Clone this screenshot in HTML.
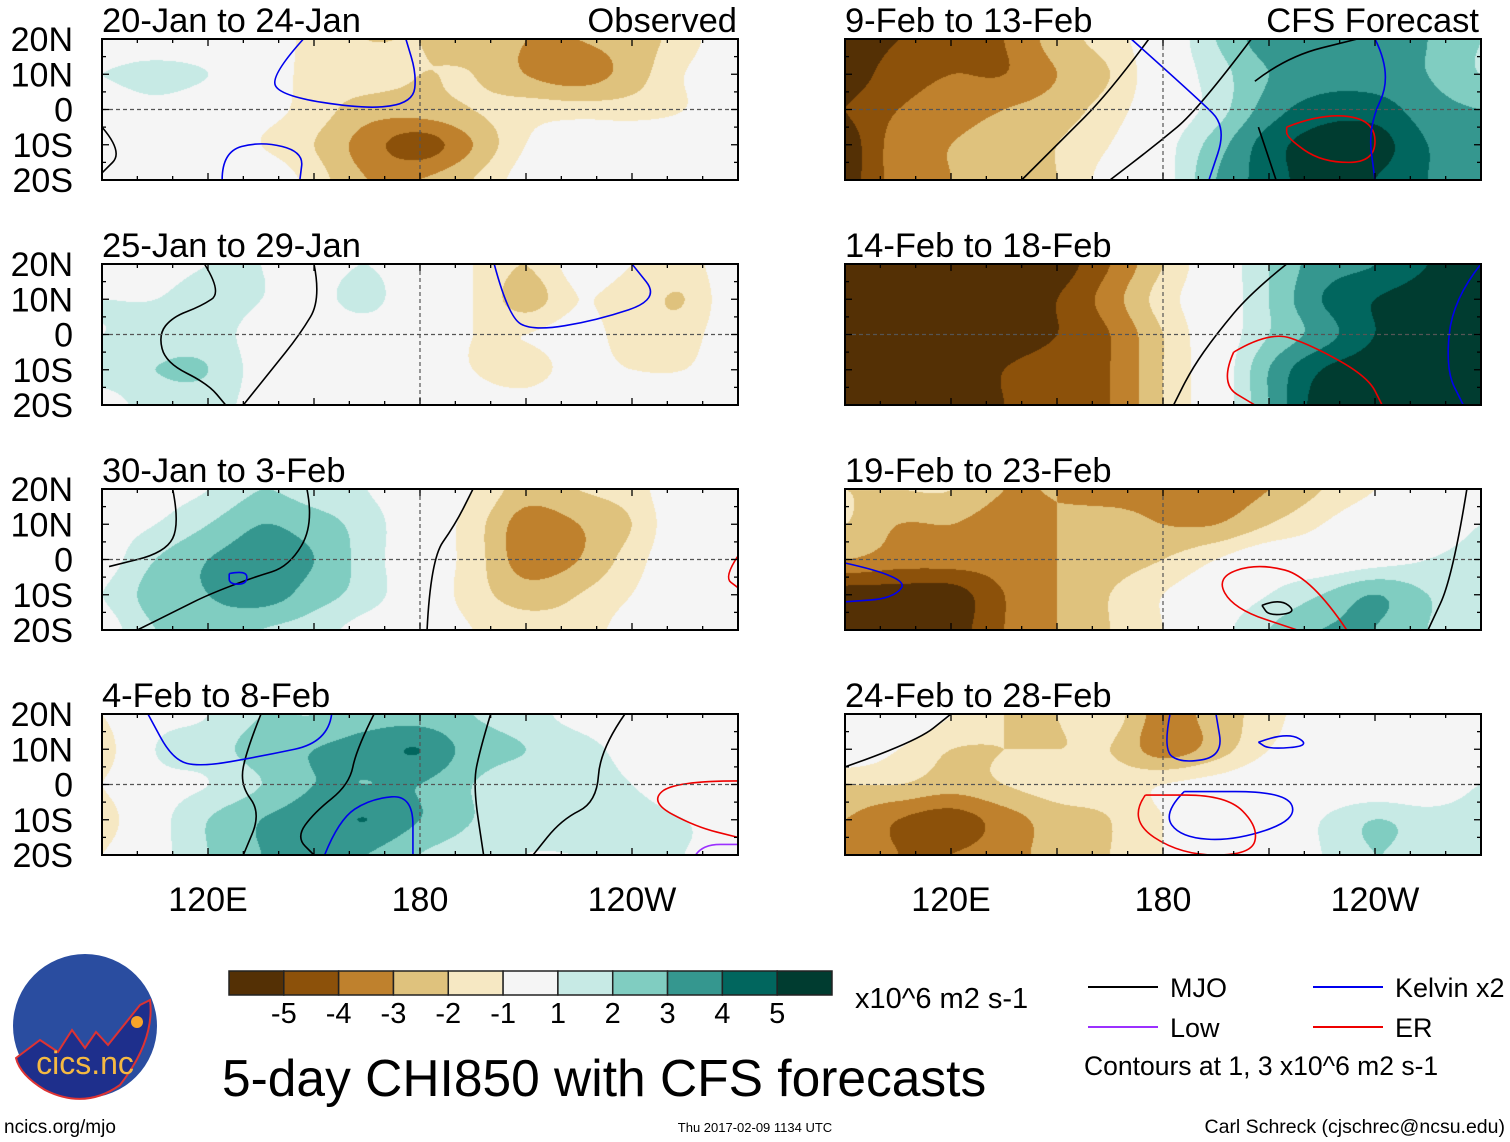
<!DOCTYPE html>
<html><head><meta charset="utf-8">
<style>
html,body{margin:0;padding:0;background:#fff;}
body{width:1510px;height:1142px;position:relative;overflow:hidden;font-family:"Liberation Sans",sans-serif;}
canvas{position:absolute;}
svg{position:absolute;left:0;top:0;}
</style></head>
<body>
<div id="maps"></div>
<svg id="ov" width="1510" height="1142"></svg>
<script>
// ---- data ----
const lons = [90,105,120,135,150,165,180,195,210,225,240,255,270];
const lats = [20,10,0,-10,-20];
const levels = [-5,-4,-3,-2,-1,1,2,3,4,5];
const levelLabels = ["-5","-4","-3","-2","-1","1","2","3","4","5"];
const colors = ["#543005","#8c510a","#bf812d","#dfc27d","#f6e8c3","#f5f5f5","#c7eae5","#80cdc1","#35978f","#01665e","#003c30"];
const titles = ["20-Jan to 24-Jan","25-Jan to 29-Jan","30-Jan to 3-Feb","4-Feb to 8-Feb","9-Feb to 13-Feb","14-Feb to 18-Feb","19-Feb to 23-Feb","24-Feb to 28-Feb"];
const lonTicks = [120,180,240];
const lonTickLabels = ["120E","180","120W"];
const latTickLabels = ["20N","10N","0","10S","20S"];
const field1 = [[0,0,0,0,-1.5,-2,-2,-2.5,-3,-3,-2.5,-1.5,0],[1,1.5,1,0,-1.5,-1.5,-2,-2,-3,-3.5,-2.5,-1,0],[0,0.5,0,-0.5,-1.5,-2.5,-2.5,-2,-1.5,-1.5,-1.5,-1,0],[0,0,0,-1,-2,-3.5,-4.5,-3,-1,0,0,0,0],[0,0,0,0,-1.5,-3,-3,-2,-0.5,0,0,0,0]];
const field2 = [[0,0.5,1,1,0.5,1,0,-1,-2,-0.5,-1,-1.5,0],[1,1,1.5,1,0.5,1.5,-0.5,-1,-2.5,-1,-1.5,-2,0],[1,1.5,1.5,0.5,0,0,-0.5,-1,-1,-0.5,-1.5,-1.5,0],[1.5,2,2,0.5,0,0,-0.5,-1,-1.5,-0.5,-1,-1,0],[0.5,1.5,1.5,0.5,0,-1,-0.5,-0.5,-0.5,0,0,0,0]];
const field3 = [[0,0.5,1,2,1.5,1,0,-1,-2.5,-2,-1.5,0,0],[0.5,1,2,3,2.5,1.5,0,-1.5,-3.5,-3,-2,0,0],[0.5,2,3,3.5,3,1.5,0,-1.5,-3.5,-3,-1.5,0,0],[1,2.5,3,3.5,2.5,1.5,0,-1.5,-2.5,-2,-1,0,0],[0.5,2,2.5,2,1.5,0.5,0,-1,-1.5,-1.5,-0.5,0,0]];
const field4 = [[-1,0.5,1,2,2,2.5,2.5,2,1.5,0.5,0,0,0],[-1.5,1,1.5,2.5,3,3.5,4,2.5,2,1.5,0.5,0,0],[-1,0.5,1,2,3,3,3,2,1.5,1.5,1,0,0],[-1.5,0.5,2,3,3.5,4,3,2,1.5,1.5,1.5,1,0.5],[-1,0.5,2,3,3,3,2,1.5,1,1,1,1,0.5]];
const field5 = [[-5.5,-5,-4.5,-4,-2.5,-1.5,0,2,3.5,3.5,3.5,3,2],[-5.5,-4.5,-4,-4,-3,-2,0,1.5,3,3.5,3.5,3,2],[-5,-4,-3.5,-3,-2.5,-1.5,0,1.5,3.5,4.5,4.5,3.5,3],[-5.5,-3.5,-3,-2.5,-2,-1,0.5,2.5,4.5,5.5,5.5,4,3.5],[-5.5,-3.5,-3,-2.5,-2,-0.5,0.5,3,4.5,5.5,5,4,3.5]];
const field6 = [[-5.5,-5.5,-5.5,-5.5,-5.5,-4,-2,0,2,3.5,4,5,5.5],[-5.5,-5.5,-5.5,-5.5,-5,-3.5,-1.5,0,2,4,5,5.5,5.5],[-5.5,-5.5,-5.5,-5.5,-5,-4,-2,0,2,3.5,5,5.5,5.5],[-5.5,-5.5,-5.5,-5,-4.5,-4,-2,0,3,5,5.5,5.5,5.5],[-5.5,-5.5,-5.5,-5,-4.5,-4,-2,0,3,5.5,5.5,5.5,5.5]];
const field7 = [[-2,-2,-2,-3,-3,-3.5,-3.5,-3.5,-3,-2,-1,0,0.5],[-2,-3,-3,-3.5,-3,-2.5,-3,-3,-2,-1,0,0,1],[-3,-3.5,-3.5,-3.5,-3,-2.5,-2,-1,0,0,0.5,1,1.5],[-5.5,-5.5,-5.5,-4,-3,-2,-1,0,1,2,3,2,1.5],[-5.5,-5.5,-5.5,-4,-3,-2,-1,0.5,2,3,3,2,1.5]];
const field8 = [[0,0,-1,-2,-2,-1.5,-3.5,-2.5,-1.5,0,0,0,0],[0,-1,-2,-2,-2,-2,-3.5,-2.5,-1,0,0,0,0],[-2,-2,-2.5,-2,-1.5,-1.5,-1,-0.5,0,0,0,0,1],[-3,-4,-4.5,-3.5,-2.5,-2,-1,0,0,1,2,1.5,1.5],[-3,-4,-4,-3.5,-2.5,-2,-1,0,0,1,2,1.5,1.5]];
const fields = [field1,field2,field3,field4,field5,field6,field7,field8];
// contours: [color, [[lon,lat],...]]
const contours = [
 [["#0000ee",[[147,20],[138,10],[140,4],[165,0],[178,2],[179,10],[176,20]]],["#0000ee",[[124,-20],[124,-12],[135,-9],[147,-12],[146,-20]]],["#000",[[90,-5],[96,-12],[90,-18]]]],
 [["#000",[[119,20],[124,12],[118,8],[110,5],[106,0],[108,-8],[120,-14],[125,-20]]],["#000",[[150,20],[152,10],[146,0],[138,-10],[130,-20]]],["#0000ee",[[201,20],[205,5],[212,1],[230,4],[248,10],[240,20]]]],
 [["#000",[[110,20],[112,10],[108,2],[92,-2]]],["#000",[[182,-20],[183,0],[190,10],[195,20]]],["#000",[[148,20],[150,10],[143,-2],[133,-5],[120,-10],[112,-14],[100,-20]]],["#ee0000",[[270,1],[266,-5],[270,-8]]],["#0000ee",[[126,-4],[131,-3],[131,-7],[126,-7],[126,-4]]]],
 [["#000",[[135,20],[131,10],[129,0],[135,-8],[130,-20]]],["#000",[[167,20],[162,10],[160,0],[150,-8],[145,-15],[150,-20]]],["#000",[[200,20],[197,10],[195,0],[198,-20]]],["#000",[[238,20],[231,10],[230,-5],[220,-10],[212,-20]]],["#0000ee",[[155,20],[154,12],[135,8],[118,5],[110,7],[103,20]]],["#0000ee",[[153,-20],[157,-10],[166,-4],[178,-3],[178,-20]]],["#ee0000",[[270,1],[252,1],[245,-5],[258,-12],[270,-15]]],["#9b30ff",[[258,-20],[260,-17],[270,-17]]]],
 [["#000",[[176,20],[165,5],[150,-10],[140,-20]]],["#000",[[205,20],[190,0],[178,-10],[165,-20]]],["#0000ee",[[171,20],[190,3],[198,-5],[193,-20]]],["#000",[[206,8],[215,15],[235,20]]],["#000",[[207,-5],[212,-20]]],["#ee0000",[[215,-5],[225,-1],[240,-3],[240,-15],[225,-15],[215,-8],[215,-5]]],["#0000ee",[[240,20],[245,10],[238,-5],[240,-20]]]],
 [["#000",[[215,20],[205,12],[195,0],[188,-10],[183,-20]]],["#ee0000",[[200,-5],[210,1],[222,-3],[238,-12],[242,-20]]],["#ee0000",[[200,-5],[196,-14],[206,-20]]],["#0000ee",[[270,20],[262,10],[260,-10],[265,-20]]]],
 [["#ee0000",[[232,-20],[222,-5],[207,-1],[195,-5],[200,-14],[218,-20]]],["#000",[[266,20],[262,-5],[255,-20]]],["#0000ee",[[90,-1],[108,-5],[104,-11],[90,-12]]],["#000",[[208,-13],[213,-11],[218,-15],[210,-16],[208,-13]]]],
 [["#0000ee",[[182,20],[180,10],[185,6],[197,8],[195,20]]],["#0000ee",[[207,12],[215,15],[222,11],[210,10],[207,12]]],["#0000ee",[[186,-2],[180,-8],[185,-15],[200,-16],[218,-10],[215,-2],[186,-2]]],["#ee0000",[[175,-3],[170,-10],[185,-20],[205,-20],[207,-12],[198,-3],[175,-3]]],["#000",[[90,5],[110,12],[120,20]]]]
];
// ---- layout ----
const W=636,H=141;
const panelX=[102,102,102,102,845,845,845,845];
const panelY=[39,264,489,714,39,264,489,714];
const NS="http://www.w3.org/2000/svg";
const ov=document.getElementById('ov');
function el(tag,attrs,parent){const e=document.createElementNS(NS,tag);for(const k in attrs)e.setAttribute(k,attrs[k]);(parent||ov).appendChild(e);return e;}
function hex(c){return [parseInt(c.substr(1,2),16),parseInt(c.substr(3,2),16),parseInt(c.substr(5,2),16)];}
const rgb=colors.map(hex);
function xs(p,lon){return panelX[p]+(lon-90)/180*W;}
function ys(p,lat){return panelY[p]+(20-lat)/40*H;}
function cr(p0,p1,p2,p3,t){return 0.5*((2*p1)+(-p0+p2)*t+(2*p0-5*p1+4*p2-p3)*t*t+(-p0+3*p1-3*p2+p3)*t*t*t);}
function g(f,j,i){j=Math.max(0,Math.min(lats.length-1,j));i=Math.max(0,Math.min(lons.length-1,i));return f[j][i];}
function val(f,u,v){const i=Math.min(Math.floor(u),lons.length-2),j=Math.min(Math.floor(v),lats.length-2);const a=u-i,b=v-j;
 const r=[];for(let k=-1;k<=2;k++){r.push(cr(g(f,j+k,i-1),g(f,j+k,i),g(f,j+k,i+1),g(f,j+k,i+2),a));}
 return cr(r[0],r[1],r[2],r[3],b);}
const maps=document.getElementById('maps');
for(let p=0;p<8;p++){
 const c=document.createElement('canvas');c.width=W;c.height=H;c.style.left=panelX[p]+'px';c.style.top=panelY[p]+'px';
 
 
 maps.appendChild(c);
 const ctx=c.getContext('2d');const img=ctx.createImageData(W,H);
 for(let y=0;y<H;y++)for(let x=0;x<W;x++){
  const v=val(fields[p],x/(W-1)*(lons.length-1),y/(H-1)*(lats.length-1));
  let k=0;while(k<levels.length&&v>=levels[k])k++;
  const o=(y*W+x)*4;img.data[o]=rgb[k][0];img.data[o+1]=rgb[k][1];img.data[o+2]=rgb[k][2];img.data[o+3]=255;}
 ctx.putImageData(img,0,0);
 const gg=el('g',{});
 
 
 contours[p].forEach(([col,pts])=>{
  const P=pts.map(q=>[xs(p,q[0]),ys(p,q[1])]);
  let d='M'+P[0][0]+' '+P[0][1];
  for(let i=1;i<P.length-1;i++){const mx=(P[i][0]+P[i+1][0])/2,my=(P[i][1]+P[i+1][1])/2;d+=' Q'+P[i][0]+' '+P[i][1]+' '+mx+' '+my;}
  d+=' L'+P[P.length-1][0]+' '+P[P.length-1][1];
  const pa=el('path',{d:d,fill:'none',stroke:col,'stroke-width':1.6},gg);
  
  
 });
 el('line',{x1:panelX[p],x2:panelX[p]+W,y1:ys(p,0),y2:ys(p,0),stroke:'#555','stroke-dasharray':'4,3','stroke-width':1.2},gg);
 el('line',{x1:xs(p,180),x2:xs(p,180),y1:panelY[p],y2:panelY[p]+H,stroke:'#555','stroke-dasharray':'4,3','stroke-width':1.2},gg);
 const fr=el('rect',{x:panelX[p],y:panelY[p],width:W,height:H,fill:'none',stroke:'#000','stroke-width':2},gg);
 
 
 for(let lo=90;lo<=270;lo+=10){const x=xs(p,lo);const L=(lo%30==0)?7:4;
  el('line',{x1:x,x2:x,y1:panelY[p],y2:panelY[p]+L,stroke:'#000','stroke-width':1.3},gg);
  el('line',{x1:x,x2:x,y1:panelY[p]+H,y2:panelY[p]+H-L,stroke:'#000','stroke-width':1.3},gg);}
 for(let la=-20;la<=20;la+=5){const y=ys(p,la);const L=(la%10==0)?7:4;
  el('line',{x1:panelX[p],x2:panelX[p]+L,y1:y,y2:y,stroke:'#000','stroke-width':1.3},gg);
  el('line',{x1:panelX[p]+W,x2:panelX[p]+W-L,y1:y,y2:y,stroke:'#000','stroke-width':1.3},gg);}
 const t=el('text',{x:panelX[p],y:panelY[p]-7,'font-size':34.5,fill:'#000'},gg);t.textContent=titles[p];
 
 
 if(p<4){latTickLabels.forEach((s,i)=>{const tt=el('text',{x:73,y:ys(p,lats[i])+12,'font-size':34,'text-anchor':'end'},gg);tt.textContent=s;
  
  });}
 if(p==3||p==7){lonTicks.forEach((lo,i)=>{const tt=el('text',{x:xs(p,lo),y:911,'font-size':34,'text-anchor':'middle'},gg);tt.textContent=lonTickLabels[i];
  
  });}
}
function txt(s,x,y,fs,name,anchor){const t=el('text',{x:x,y:y,'font-size':fs,'text-anchor':anchor||'start'});t.textContent=s;
 
 return t;}
txt('Observed',737,32,34.5,'observed-label','end');
txt('CFS Forecast',1479,32,34.5,'forecast-label','end');
const cbx=229,cbw=603/11;
colors.forEach((c,i)=>{const r=el('rect',{x:cbx+i*cbw,y:971,width:cbw,height:24,fill:c,stroke:'#222','stroke-width':1.5});
 
 });
levelLabels.forEach((s,i)=>txt(s,cbx+(i+1)*cbw,1023,29,'colorbar-label','middle'));
txt('x10^6 m2 s-1',855,1008,29,'colorbar-units');
txt('5-day CHI850 with CFS forecasts',222,1096,51.5,'chart-title');
[[1088,987,'#000','MJO'],[1313,987,'#0000ee','Kelvin x2'],[1088,1027,'#9b30ff','Low'],[1313,1027,'#ee0000','ER']].forEach(([x,y,c,s])=>{
 const l=el('line',{x1:x,x2:x+70,y1:y,y2:y,stroke:c,'stroke-width':2});
 
 
 txt(s,x+82,y+10,27,'legend-entry');});
txt('Contours at 1, 3 x10^6 m2 s-1',1084,1075,26.5,'contour-note');
txt('ncics.org/mjo',4,1133,19,'source-url');
txt('Thu 2017-02-09 1134 UTC',755,1132,13,'timestamp','middle');
txt('Carl Schreck (cjschrec@ncsu.edu)',1505,1133,19.5,'credit','end');
const lg=el('g',{});


el('circle',{cx:85,cy:1026,r:72,fill:'#2a4da0'},lg);
el('path',{d:'M16 1058 L40 1040 L58 1052 L72 1030 L85 1048 L96 1032 L108 1045 L140 1005 L150 1000 Q155 1040 120 1085 Q85 1110 45 1090 Q20 1075 16 1058Z',fill:'#1e2f8c',stroke:'#d33','stroke-width':2},lg);
el('circle',{cx:137,cy:1022,r:6,fill:'#f7a52a'},lg);
const lt=el('text',{x:85,y:1074,'font-size':32,'text-anchor':'middle',fill:'#f5b942'},lg);lt.textContent='cics.nc';
</script>
</body></html>
